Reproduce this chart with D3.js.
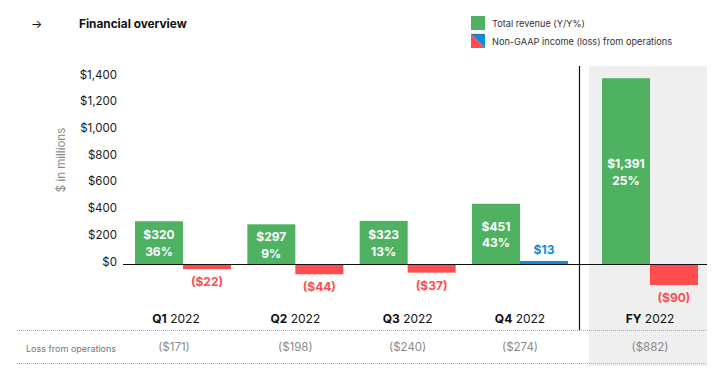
<!DOCTYPE html>
<html>
<head>
<meta charset="utf-8">
<script src="https://cdn.jsdelivr.net/npm/d3@7"></script>
<style>
  html, body { margin: 0; padding: 0; background: #fff; }
  svg { display: block; font-family: Inter, "Liberation Sans", sans-serif; }
</style>
</head>
<body>
<div id="chart"></div>
<script>
// ── Datos ──────────────────────────────────────────────────────────────
const periodos = ["Q1", "Q2", "Q3", "Q4", "FY"];
const anio = "2022";
const ingresos = [320, 297, 323, 451, 1391];
const crecimiento = ["36%", "9%", "13%", "43%", "25%"];
const resultadoNoGaap = [-22, -44, -37, 13, -90];
const perdidaOperaciones = [-171, -198, -240, -274, -882];
const ticksY = [0, 200, 400, 600, 800, 1000, 1200, 1400];

const filas = periodos.map((p, i) => ({
  periodo: p,
  ingreso: ingresos[i],
  yoy: crecimiento[i],
  resultado: resultadoNoGaap[i],
  perdida: perdidaOperaciones[i],
}));

// ── Colores ────────────────────────────────────────────────────────────
const VERDE = "#4fb263";
const ROJO = "#ff4d4f";
const AZUL = "#0b8de3";

const fmtDolar = v => v < 0 ? `($${d3.format(",")(-v)})` : `$${d3.format(",")(v)}`;

// ── Lienzo ─────────────────────────────────────────────────────────────
const width = 720, height = 382;
const svg = d3.select("#chart").append("svg")
  .attr("width", width)
  .attr("height", height)
  .attr("viewBox", [0, 0, width, height]);

// ── Escalas ────────────────────────────────────────────────────────────
const trimestres = periodos.filter(p => p !== "FY");
const xQ = d3.scalePoint().domain(trimestres).range([183, 520]);
const xFY = d3.scaleBand().domain(["FY"]).range([589, 711]);
const x = p => p === "FY" ? xFY(p) + xFY.bandwidth() / 2 : xQ(p);
const anchoBarra = 48;

const y = d3.scaleLinear().domain([0, 1400]).range([264, 77]);
// el resultado operativo usa su propia escala (barras pequeñas)
const yRes = d3.scaleLinear().domain([0, -90]).range([264, 285]);

// ── Panel anual (fondo gris) ───────────────────────────────────────────
svg.append("rect")
  .attr("x", xFY.range()[0])
  .attr("y", 66)
  .attr("width", 707 - xFY.range()[0])
  .attr("height", 366 - 66)
  .attr("fill", "#efefef");

// ── Título ─────────────────────────────────────────────────────────────
svg.append("text")
  .attr("x", 31).attr("y", 28)
  .attr("font-size", 12).attr("fill", "#111")
  .text("→");
svg.append("text")
  .attr("x", 79).attr("y", 28)
  .attr("font-size", 11.8).attr("font-weight", 700).attr("fill", "#111")
  .text("Financial overview");

// ── Leyenda ────────────────────────────────────────────────────────────
const gLeyenda = svg.append("g").attr("transform", "translate(471,16)");
gLeyenda.append("rect").attr("width", 14).attr("height", 14).attr("fill", VERDE);
gLeyenda.append("text").attr("x", 21).attr("y", 11)
  .attr("font-size", 9.2).attr("fill", "#333").text("Total revenue (Y/Y%)");
const sw = gLeyenda.append("g").attr("transform", "translate(0,18)");
sw.append("path").attr("d", "M0,0L14,14L0,14Z").attr("fill", ROJO);
sw.append("path").attr("d", "M0,0L14,0L14,14Z").attr("fill", AZUL);
sw.append("line").attr("x1", 0).attr("x2", 14).attr("y1", 0.3).attr("y2", 0.3)
  .attr("stroke", "#555").attr("stroke-width", 0.6);
gLeyenda.append("text").attr("x", 21).attr("y", 29)
  .attr("font-size", 9.2).attr("fill", "#333").text("Non-GAAP income (loss) from operations");

// ── Eje Y ──────────────────────────────────────────────────────────────
svg.append("g")
  .selectAll("text")
  .data(ticksY)
  .join("text")
  .attr("x", 117)
  .attr("y", d => y(d) - 2.5)
  .attr("dy", "0.35em")
  .attr("text-anchor", "end")
  .attr("font-size", 11.5)
  .attr("fill", "#1a1a1a")
  .text(d => fmtDolar(d));

svg.append("text")
  .attr("transform", "translate(65,160) rotate(-90)")
  .attr("text-anchor", "middle")
  .attr("font-size", 11.5)
  .attr("fill", "#8a8a8a")
  .text("$ in millions");

// ── Barras de ingresos ────────────────────────────────────────────────
const gBarras = svg.append("g");
gBarras.selectAll("rect.ingreso")
  .data(filas)
  .join("rect")
  .attr("class", "ingreso")
  .attr("x", d => x(d.periodo) - anchoBarra)
  .attr("y", d => y(d.ingreso))
  .attr("width", anchoBarra)
  .attr("height", d => y(0) - y(d.ingreso))
  .attr("fill", VERDE);

gBarras.selectAll("text.ingreso")
  .data(filas)
  .join("text")
  .attr("class", "ingreso")
  .attr("x", d => x(d.periodo) - anchoBarra / 2)
  .attr("y", d => (y(d.ingreso) + y(0)) / 2 + 1)
  .attr("text-anchor", "middle")
  .attr("font-size", 12)
  .attr("font-weight", 700)
  .attr("fill", "#fff")
  .call(t => t.append("tspan").attr("x", d => x(d.periodo) - anchoBarra / 2).attr("dy", "-0.35em").text(d => fmtDolar(d.ingreso)))
  .call(t => t.append("tspan").attr("x", d => x(d.periodo) - anchoBarra / 2).attr("dy", "1.4em").text(d => d.yoy));

// ── Barras de resultado operativo ─────────────────────────────────────
gBarras.selectAll("rect.resultado")
  .data(filas)
  .join("rect")
  .attr("class", "resultado")
  .attr("x", d => x(d.periodo))
  .attr("y", d => Math.min(yRes(d.resultado), yRes(0)))
  .attr("width", anchoBarra)
  .attr("height", d => Math.abs(yRes(d.resultado) - yRes(0)))
  .attr("fill", d => d.resultado < 0 ? ROJO : AZUL);

gBarras.selectAll("text.resultado")
  .data(filas)
  .join("text")
  .attr("class", "resultado")
  .attr("x", d => x(d.periodo) + anchoBarra / 2)
  .attr("y", d => d.resultado < 0 ? yRes(d.resultado) + 13 : yRes(d.resultado) - 11)
  .attr("dy", "0.35em")
  .attr("text-anchor", "middle")
  .attr("font-size", 12)
  .attr("font-weight", 700)
  .attr("fill", d => d.resultado < 0 ? ROJO : AZUL)
  .text(d => fmtDolar(d.resultado));

// ── Línea base y divisor ──────────────────────────────────────────────
svg.append("line")
  .attr("x1", 123).attr("x2", 707)
  .attr("y1", y(0) + 0.5).attr("y2", y(0) + 0.5)
  .attr("stroke", "#111").attr("stroke-width", 1.2);

svg.append("line")
  .attr("x1", 579.5).attr("x2", 579.5)
  .attr("y1", 66).attr("y2", 330)
  .attr("stroke", "#111").attr("stroke-width", 1.2);

// ── Etiquetas de periodo ──────────────────────────────────────────────
svg.append("g")
  .selectAll("text")
  .data(filas)
  .join("text")
  .attr("x", d => x(d.periodo) - (d.periodo === "Q1" ? 7 : 0))
  .attr("y", 323)
  .attr("text-anchor", "middle")
  .attr("font-size", 12)
  .attr("fill", "#111")
  .call(t => t.append("tspan").attr("font-weight", 700).text(d => d.periodo))
  .call(t => t.append("tspan").text(` ${anio}`));

// ── Tabla: pérdida de operaciones ─────────────────────────────────────
[330.5, 363.5].forEach(yy => {
  svg.append("line")
    .attr("x1", 17).attr("x2", 707)
    .attr("y1", yy).attr("y2", yy)
    .attr("stroke", "#a8a8a8").attr("stroke-width", 1)
    .attr("stroke-dasharray", "1,1");
});

svg.append("text")
  .attr("x", 26).attr("y", 349)
  .attr("dy", "0.35em")
  .attr("font-size", 9)
  .attr("fill", "#777")
  .text("Loss from operations");

svg.append("g")
  .selectAll("text")
  .data(filas)
  .join("text")
  .attr("x", d => x(d.periodo) - (d.periodo === "Q1" ? 9 : 0))
  .attr("y", 347)
  .attr("dy", "0.35em")
  .attr("text-anchor", "middle")
  .attr("font-size", 11.5)
  .attr("fill", "#8a8a8a")
  .text(d => fmtDolar(d.perdida));
</script>
</body>
</html>
